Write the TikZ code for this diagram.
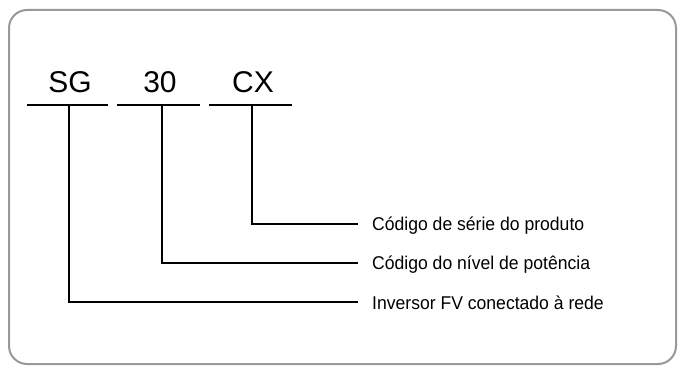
\documentclass[tikz,border=0pt]{standalone}
\usepackage{fontspec}
\setmainfont{Liberation Sans}
\begin{document}
\begin{tikzpicture}[x=1pt,y=-1pt,
  codetext/.style={inner sep=0pt, anchor=base, font=\fontsize{30}{36}\selectfont},
  labeltext/.style={inner sep=0pt, anchor=west, text height=14pt, text depth=0pt, font=\fontsize{18.5}{22}\selectfont},
  rule/.style={line width=2pt, black},
  frame/.style={line width=2pt, draw=black!40, rounded corners=18pt}]
\useasboundingbox (0,0) rectangle (678,366);
\draw[frame] (9,10) rectangle (676,364);
% codes
\node[codetext] (sg) at (70,93) {SG};
\node[codetext] (n30) at (160,93) {30};
\node[codetext] (cx) at (253,93) {CX};
% underlines
\coordinate (u1a) at (27,105); \coordinate (u1b) at (108,105);
\coordinate (u2a) at (117,105); \coordinate (u2b) at (200,105);
\coordinate (u3a) at (209,105); \coordinate (u3b) at (292,105);
\draw[rule] (u1a) -- (u1b);
\draw[rule] (u2a) -- (u2b);
\draw[rule] (u3a) -- (u3b);
\coordinate (v1) at (69,105);
\coordinate (v2) at (162,105);
\coordinate (v3) at (252,105);
% labels
\node[labeltext] (l1) at (372,224) {\scalebox{0.95}[1]{Código de série do produto}};
\node[labeltext] (l2) at (372,263) {\scalebox{0.95}[1]{Código do nível de potência}};
\node[labeltext] (l3) at (372,302) {\scalebox{0.95}[1]{Inversor FV conectado à rede}};
% connectors
\draw[rule] (v3) |- ([xshift=-14pt]l1.west);
\draw[rule] (v2) |- ([xshift=-14pt]l2.west);
\draw[rule] (v1) |- ([xshift=-14pt]l3.west);
\end{tikzpicture}
\end{document}
